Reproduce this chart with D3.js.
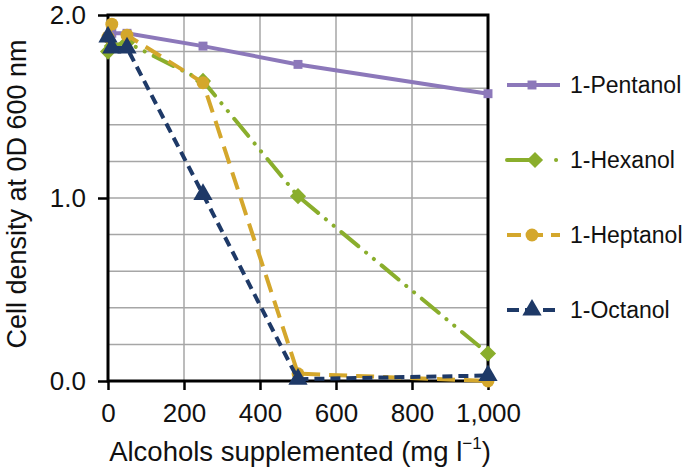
<!DOCTYPE html>
<html>
<head>
<meta charset="utf-8">
<script src="https://cdn.jsdelivr.net/npm/d3@7/dist/d3.min.js"></script>
<style>
  html, body { margin: 0; padding: 0; background: #fff; }
  svg { display: block; font-family: "Liberation Sans", Arial, Helvetica, sans-serif; }
</style>
</head>
<body>
<svg id="chart" width="685" height="469"></svg>
<script>
// ---- data ----
const doses = [0, 10, 50, 250, 500, 1000];
const seriesNames = ["1-Pentanol", "1-Hexanol", "1-Heptanol", "1-Octanol"];
const pentanol = [1.88, 1.90, 1.90, 1.83, 1.73, 1.57];
const hexanol  = [1.80, 1.83, 1.85, 1.64, 1.01, 0.15];
const heptanol = [1.88, 1.95, 1.89, 1.63, 0.04, 0.00];
const octanol  = [1.88, 1.82, 1.82, 1.02, 0.01, 0.03];
const xTicks = [0, 200, 400, 600, 800, 1000];
const yTicks = [0, 1, 2];
const yGrid = [0.2, 0.4, 0.6, 0.8, 1.0, 1.2, 1.4, 1.6, 1.8];

const colors = ["#8C78BA", "#8AAE2C", "#D4A72C", "#1E3967"];
const dashes = ["none", "22 10 0.1 10 0.1 10", "18 9", "10 6"];
const symbols = [d3.symbolSquare, d3.symbolSquare, d3.symbolCircle, d3.symbolTriangle];
const symRot = [0, 45, 0, 0];
const symSize = [80, 130, 130, 160];
const values = [pentanol, hexanol, heptanol, octanol];

const svg = d3.select("#chart");
const L = 108, R = 488, T = 15, B = 381;
const x = d3.scaleLinear().domain([0, 1000]).range([L, R]);
const y = d3.scaleLinear().domain([0, 2]).range([B, T]);

// grid
svg.append("g").selectAll("line.v").data(xTicks.slice(1, -1)).join("line")
  .attr("x1", d => x(d)).attr("x2", d => x(d)).attr("y1", T).attr("y2", B)
  .attr("stroke", "#A6A6A6").attr("stroke-width", 1.5);
svg.append("g").selectAll("line.h").data(yGrid).join("line")
  .attr("x1", L).attr("x2", R).attr("y1", d => y(d)).attr("y2", d => y(d))
  .attr("stroke", "#A6A6A6").attr("stroke-width", 1.5);

// axes
const yAxis = svg.append("g").attr("transform", `translate(${L},0)`)
  .call(d3.axisLeft(y).tickValues(yTicks).tickFormat(d3.format(".1f")).tickSize(10).tickPadding(12));
const xAxis = svg.append("g").attr("transform", `translate(0,${B})`)
  .call(d3.axisBottom(x).tickValues(xTicks).tickFormat(d3.format(",")).tickSize(9).tickPadding(14));
[xAxis, yAxis].forEach(a => {
  a.select(".domain").remove();
  a.selectAll(".tick line").attr("stroke", "#000").attr("stroke-width", 2.5);
  a.selectAll(".tick text").attr("font-size", 26).attr("fill", "#111")
    .attr("font-family", "'Liberation Sans', Arial, sans-serif");
});

// box
svg.append("rect").attr("x", L).attr("y", T).attr("width", R - L).attr("height", B - T)
  .attr("fill", "none").attr("stroke", "#000").attr("stroke-width", 3);

// series
const line = d3.line().x((d, i) => x(doses[i])).y(d => y(d));
values.forEach((vals, s) => {
  const g = svg.append("g");
  g.append("path").datum(vals).attr("d", line)
    .attr("fill", "none").attr("stroke", colors[s]).attr("stroke-width", 4)
    .attr("stroke-dasharray", dashes[s]).attr("stroke-linecap", s === 1 ? "round" : "butt");
  g.selectAll("path.m").data(vals).join("path").attr("class", "m")
    .attr("transform", (d, i) => `translate(${x(doses[i])},${y(d)}) rotate(${symRot[s]})`)
    .attr("d", d3.symbol().type(symbols[s]).size(symSize[s]))
    .attr("fill", colors[s]);
});

// legend
const legY = [85, 160, 235, 310];
seriesNames.forEach((name, s) => {
  const g = svg.append("g").attr("transform", `translate(0,${legY[s]})`);
  g.append("line").attr("x1", 507).attr("x2", 560).attr("y1", 0).attr("y2", 0)
    .attr("stroke", colors[s]).attr("stroke-width", 4)
    .attr("stroke-dasharray", s === 0 ? "none" : (s === 1 ? "30 19 0.1 20" : (s === 2 ? "14 8" : "12 6")))
    .attr("stroke-linecap", s === 1 ? "round" : "butt");
  g.append("path").attr("transform", `translate(${s === 1 ? 535 : 532},0) rotate(${symRot[s]})`)
    .attr("d", d3.symbol().type(symbols[s]).size(symSize[s]))
    .attr("fill", colors[s]);
  g.append("text").attr("x", 570).attr("y", 0).attr("dy", "0.35em")
    .attr("font-size", 23).attr("fill", "#111").text(name);
});

// axis titles
svg.append("text").attr("transform", "translate(26,194) rotate(-90)")
  .attr("text-anchor", "middle").attr("font-size", 27).attr("fill", "#111")
  .text("Cell density at 0D 600 nm");
const xt = svg.append("text").attr("x", 300).attr("y", 461)
  .attr("text-anchor", "middle").attr("font-size", 27.5).attr("fill", "#111");
xt.append("tspan").text("Alcohols supplemented (mg l");
xt.append("tspan").attr("font-size", 17).attr("dy", -12).text("\u22121");
xt.append("tspan").attr("dy", 12).text(")");
</script>
</body>
</html>
